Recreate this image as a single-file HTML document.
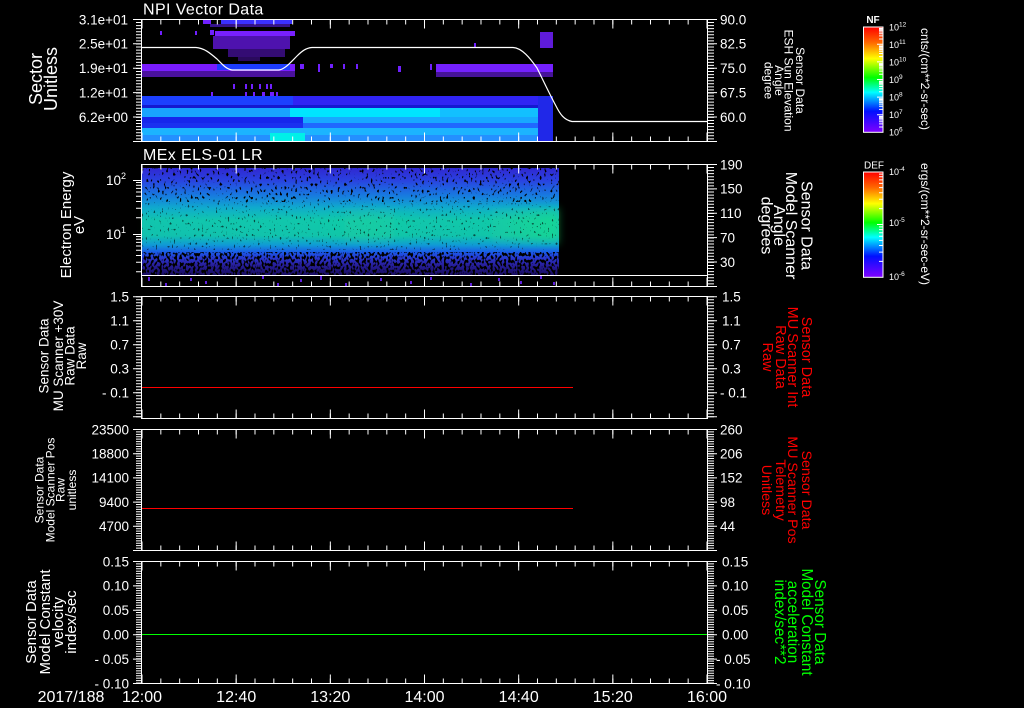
<!DOCTYPE html>
<html><head><meta charset="utf-8"><style>
html,body{margin:0;padding:0;background:#000;}
svg{display:block;}
text{font-family:"Liberation Sans",sans-serif;fill:#fff;}
</style></head><body>
<svg width="1024" height="708" viewBox="0 0 1024 708" xmlns="http://www.w3.org/2000/svg">
<defs>
<linearGradient id="rb" x1="0" y1="0" x2="0" y2="1">
<stop offset="0" stop-color="#ff0000"/>
<stop offset="0.15" stop-color="#ff6a00"/>
<stop offset="0.3" stop-color="#ffff00"/>
<stop offset="0.48" stop-color="#00ff00"/>
<stop offset="0.62" stop-color="#00ffff"/>
<stop offset="0.8" stop-color="#0010ff"/>
<stop offset="1" stop-color="#8000ff"/>
</linearGradient>
<linearGradient id="sp2" x1="0" y1="168" x2="0" y2="275" gradientUnits="userSpaceOnUse">
<stop offset="0" stop-color="#3028d0"/>
<stop offset="0.11" stop-color="#2a40e0"/>
<stop offset="0.25" stop-color="#1878e0"/>
<stop offset="0.37" stop-color="#10a8d0"/>
<stop offset="0.49" stop-color="#12c4b0"/>
<stop offset="0.63" stop-color="#12c0b0"/>
<stop offset="0.72" stop-color="#1098d8"/>
<stop offset="0.79" stop-color="#1a58e8"/>
<stop offset="0.84" stop-color="#2838d0"/>
<stop offset="0.9" stop-color="#2820a0"/>
<stop offset="1" stop-color="#180c60"/>
</linearGradient>
<linearGradient id="grn" x1="142" y1="0" x2="559" y2="0" gradientUnits="userSpaceOnUse">
<stop offset="0" stop-color="#20f070" stop-opacity="0.03"/>
<stop offset="0.42" stop-color="#20f070" stop-opacity="0.08"/>
<stop offset="0.55" stop-color="#20f070" stop-opacity="0.2"/>
<stop offset="0.68" stop-color="#20f070" stop-opacity="0.06"/>
<stop offset="0.82" stop-color="#20f070" stop-opacity="0.1"/>
<stop offset="0.95" stop-color="#20f070" stop-opacity="0.35"/>
<stop offset="1" stop-color="#20f070" stop-opacity="0.4"/>
</linearGradient>
<filter id="blur4" x="-5%" y="-50%" width="110%" height="200%">
<feGaussianBlur stdDeviation="4"/>
</filter>
<filter id="spkA" x="0" y="0" width="1" height="1">
<feTurbulence type="fractalNoise" baseFrequency="0.45 0.3" numOctaves="1" seed="7"/>
<feColorMatrix type="matrix" values="0 0 0 0 0  0 0 0 0 0  0 0 0 0 0  12 0 0 0 -7.3"/>
</filter>
<filter id="spkB" x="0" y="0" width="1" height="1">
<feTurbulence type="fractalNoise" baseFrequency="0.45 0.3" numOctaves="1" seed="11"/>
<feColorMatrix type="matrix" values="0 0 0 0 0  0 0 0 0 0  0 0 0 0 0  12 0 0 0 -6.0"/>
</filter>
<filter id="spkC" x="0" y="0" width="1" height="1">
<feTurbulence type="fractalNoise" baseFrequency="0.5 0.35" numOctaves="1" seed="3"/>
<feColorMatrix type="matrix" values="0 0 0 0 0  0 0 0 0 0  0 0 0 0 0  12 0 0 0 -7.8"/>
</filter>
<g id="tt" stroke="#fff">
<line x1="141.5" y1="2.5" x2="708" y2="2.5" stroke-width="5" stroke-dasharray="1 17.833"/>
<line x1="141.5" y1="4.5" x2="708" y2="4.5" stroke-width="9" stroke-dasharray="1 93.167"/>
</g>
<g id="tb" stroke="#fff">
<line x1="141.5" y1="-2.5" x2="708" y2="-2.5" stroke-width="5" stroke-dasharray="1 17.833"/>
<line x1="141.5" y1="-4.5" x2="708" y2="-4.5" stroke-width="9" stroke-dasharray="1 93.167"/>
</g>
</defs>
<rect width="1024" height="708" fill="#000"/>

<!-- ===== Panel 1 data ===== -->
<g>
<rect x="203" y="20" width="8" height="4" fill="#7020ff"/>
<rect x="221" y="20" width="71" height="4" fill="#3a30ff"/>
<rect x="210" y="24" width="80" height="3" fill="#5a20e8" opacity="0.6"/>
<rect x="160" y="31" width="2" height="4" fill="#7020ff"/>
<rect x="195" y="31" width="2" height="4" fill="#7020ff"/>
<rect x="210" y="30" width="4" height="5" fill="#7020ff"/>
<rect x="215" y="31" width="80" height="5" fill="#7820ff"/>
<rect x="213" y="36" width="77" height="13" fill="#6818e8" opacity="0.75"/>
<rect x="228" y="49" width="57" height="8" fill="#6818e8" opacity="0.5"/>
<rect x="238" y="57" width="22" height="4" fill="#6818e8" opacity="0.4"/>
<rect x="474" y="43" width="2" height="5" fill="#7020ff"/>
<rect x="540" y="32" width="13" height="16" fill="#7020ff" opacity="0.85"/>
<rect x="142" y="64" width="153" height="7" fill="#7a1cff"/>
<rect x="142" y="71" width="153" height="6" fill="#6a18e0" opacity="0.7"/>
<rect x="217" y="64" width="73" height="6" fill="#1c3cff"/>
<rect x="300" y="64" width="4" height="5" fill="#7020ff"/>
<rect x="318" y="64" width="2" height="8" fill="#7020ff"/>
<rect x="330" y="64" width="3" height="4" fill="#7020ff"/>
<rect x="343" y="64" width="2" height="5" fill="#7020ff"/>
<rect x="356" y="64" width="2" height="5" fill="#7020ff"/>
<rect x="398" y="66" width="3" height="6" fill="#7020ff"/>
<rect x="430" y="64" width="2" height="6" fill="#7020ff"/>
<rect x="436" y="64" width="117" height="8" fill="#7420ff"/>
<rect x="436" y="72" width="117" height="5" fill="#7420ff" opacity="0.6"/>
<g fill="#7020ff">
<rect x="233" y="84" width="2" height="5"/><rect x="245" y="84" width="2" height="5"/><rect x="251" y="84" width="2" height="5"/>
<rect x="259" y="84" width="2" height="5"/><rect x="266" y="84" width="2" height="5"/><rect x="270" y="84" width="2" height="5"/>
<rect x="211" y="92" width="2" height="4"/><rect x="245" y="92" width="2" height="4"/><rect x="253" y="92" width="2" height="4"/>
<rect x="262" y="92" width="3" height="4"/><rect x="270" y="92" width="4" height="4"/><rect x="276" y="92" width="2" height="4"/>
</g>
<rect x="142" y="96" width="151" height="9" fill="#1c40ff"/>
<rect x="293" y="96" width="245" height="9" fill="#3024f4"/>
<rect x="142" y="105" width="396" height="3" fill="#1418d0"/>
<rect x="142" y="108" width="148" height="9" fill="#18a4ff"/>
<rect x="290" y="108" width="150" height="9" fill="#00e4ff"/>
<rect x="440" y="108" width="98" height="9" fill="#12c0ff"/>
<rect x="142" y="117" width="161" height="6" fill="#1626ec"/>
<rect x="303" y="117" width="235" height="6" fill="#18a8ff"/>
<rect x="142" y="123" width="161" height="5" fill="#1a30f0"/>
<rect x="303" y="123" width="235" height="5" fill="#2068ff"/>
<rect x="142" y="128" width="396" height="7" fill="#1cb4ff"/>
<rect x="142" y="135" width="396" height="7" fill="#2490ff"/>
<rect x="270" y="133" width="35" height="9" fill="#00f0e8"/>
<rect x="538" y="96" width="15" height="46" fill="#2028e8"/>
</g>
<path d="M142,47.5 L196,47.5 C204,48 210,53 217,59 C222,64 226,69 232,70 L279,70 C285,69 290,63 297,56 C302,51 306,48 312,47.5 L513,47.5 C522,48 530,58 537,68 C543,80 550,95 556,106 C560,114 564,120 572,121.5 L707,121.5" fill="none" stroke="#fff" stroke-width="1.2"/>

<!-- ===== Panel 2 data ===== -->
<rect x="142" y="168" width="417" height="107" fill="url(#sp2)"/>
<rect x="142" y="208" width="417" height="36" fill="url(#grn)" filter="url(#blur4)"/>
<rect x="142" y="168" width="417" height="34" fill="#000" filter="url(#spkA)"/>
<rect x="142" y="202" width="417" height="48" fill="#000" opacity="0.6" filter="url(#spkC)"/>
<rect x="142" y="252" width="417" height="23" fill="#000" filter="url(#spkB)"/>
<g fill="#6020e0">
<rect x="148" y="277" width="2" height="4"/><rect x="165" y="283" width="2" height="3"/><rect x="190" y="278" width="2" height="3"/>
<rect x="205" y="281" width="2" height="3"/><rect x="262" y="276" width="2" height="3"/><rect x="277" y="283" width="2" height="3"/>
<rect x="300" y="279" width="2" height="3"/><rect x="320" y="276" width="2" height="4"/><rect x="345" y="283" width="2" height="3"/>
<rect x="380" y="278" width="2" height="3"/><rect x="410" y="281" width="2" height="3"/><rect x="430" y="277" width="2" height="3"/>
<rect x="470" y="283" width="2" height="3"/><rect x="498" y="278" width="2" height="3"/><rect x="520" y="281" width="2" height="3"/>
<rect x="540" y="276" width="2" height="3"/><rect x="553" y="282" width="2" height="3"/>
</g>
<line x1="142" y1="275.5" x2="707" y2="275.5" stroke="#fff" stroke-width="1"/>

<!-- ===== lines panels 3-5 ===== -->
<line x1="142" y1="387.5" x2="573" y2="387.5" stroke="#ff0000" stroke-width="1"/>
<line x1="142" y1="508.5" x2="573" y2="508.5" stroke="#ff0000" stroke-width="1"/>
<line x1="142" y1="634.5" x2="707" y2="634.5" stroke="#00ff00" stroke-width="1"/>

<!-- ===== frames ===== -->
<g fill="none" stroke="#fff" stroke-width="1">
<rect x="141.5" y="19.5" width="566" height="122"/>
<rect x="141.5" y="164.5" width="566" height="122"/>
<rect x="141.5" y="296.5" width="566" height="122"/>
<rect x="141.5" y="429.5" width="566" height="121"/>
<rect x="141.5" y="561.5" width="566" height="122"/>
</g>

<use href="#tt" y="19.5"/><use href="#tb" y="141.5"/>
<use href="#tt" y="164.5"/><use href="#tb" y="286.5"/>
<use href="#tt" y="296.5"/><use href="#tb" y="418.5"/>
<use href="#tt" y="429.5"/><use href="#tb" y="550.5"/>
<use href="#tt" y="561.5"/><use href="#tb" y="683.5"/>

<g stroke="#fff">
<line x1="139" y1="19" x2="139" y2="142" stroke-width="6" stroke-dasharray="1 2.06"/>
<line x1="710.5" y1="19" x2="710.5" y2="142" stroke-width="7" stroke-dasharray="1 2.06"/>
<line x1="710.5" y1="164" x2="710.5" y2="287" stroke-width="7" stroke-dasharray="1 2.06"/>
<line x1="139" y1="296.2" x2="139" y2="419" stroke-width="6" stroke-dasharray="1 2.0"/>
<line x1="710.5" y1="296.2" x2="710.5" y2="419" stroke-width="7" stroke-dasharray="1 2.0"/>
<line x1="139" y1="429" x2="139" y2="551" stroke-width="6" stroke-dasharray="1 1.42"/>
<line x1="710.5" y1="429" x2="710.5" y2="551" stroke-width="7" stroke-dasharray="1 1.42"/>
<line x1="139" y1="561" x2="139" y2="684" stroke-width="6" stroke-dasharray="1 1.43"/>
<line x1="710.5" y1="561" x2="710.5" y2="684" stroke-width="7" stroke-dasharray="1 1.43"/>
</g>
<g stroke="#fff" stroke-width="1">
<path d="M133 19.5H142M133 43.8H142M133 68.2H142M133 92.6H142M133 117H142M133 141.5H142
M707 19.5H717M707 43.8H717M707 68.2H717M707 92.6H717M707 117H717M707 141.5H717
M133 180.5H142M133 234.5H142
M136 182.5H142M136 185.2H142M136 188.4H142M136 192H142M136 196.3H142M136 201.5H142M136 208.2H142M136 217.7H142
M136 236.5H142M136 239.2H142M136 242.4H142M136 246H142M136 250.3H142M136 255.5H142M136 262.2H142M136 271.7H142
M707 164.5H717M707 188.9H717M707 213.3H717M707 237.6H717M707 262H717M707 286.5H717
M133 296.7H142M133 320.7H142M133 344.7H142M133 368.7H142M133 392.7H142M133 416.7H142
M707 296.7H717M707 320.7H717M707 344.7H717M707 368.7H717M707 392.7H717M707 416.7H717
M133 429.5H142M133 453.7H142M133 477.9H142M133 502.1H142M133 526.3H142M133 550.5H142
M707 429.5H717M707 453.7H717M707 477.9H717M707 502.1H717M707 526.3H717M707 550.5H717
M133 561.5H142M133 585.9H142M133 610.3H142M133 634.7H142M133 659.1H142M133 683.5H142
M707 561.5H717M707 585.9H717M707 610.3H717M707 634.7H717M707 659.1H717M707 683.5H717"/>
</g>

<text x="143" y="14.5" font-size="16" letter-spacing="0.4">NPI Vector Data</text>
<text x="143" y="160" font-size="16" letter-spacing="0.4">MEx ELS-01 LR</text>

<g font-size="13.5" text-anchor="end">
<text x="128" y="24.3">3.1e+01</text>
<text x="128" y="48.6">2.5e+01</text>
<text x="128" y="73">1.9e+01</text>
<text x="128" y="97.4">1.2e+01</text>
<text x="128" y="121.8">6.2e+00</text>
<text x="126" y="185">10<tspan dy="-6" font-size="9">2</tspan></text>
<text x="126" y="239">10<tspan dy="-6" font-size="9">1</tspan></text>
<text x="129" y="301.5">1.5</text>
<text x="129" y="325.5">1.1</text>
<text x="129" y="349.5">0.7</text>
<text x="129" y="373.5">0.3</text>
<text x="129" y="397.5">- 0.1</text>
<text x="129" y="434.3">23500</text>
<text x="129" y="458.5">18800</text>
<text x="129" y="482.7">14100</text>
<text x="129" y="506.9">9400</text>
<text x="129" y="531.1">4700</text>
<text x="129" y="566.3">0.15</text>
<text x="129" y="590.7">0.10</text>
<text x="129" y="615.1">0.05</text>
<text x="129" y="639.5">0.00</text>
<text x="129" y="663.9">- 0.05</text>
<text x="129" y="688.3">- 0.10</text>
</g>
<g font-size="13.5">
<text x="720" y="24.3">90.0</text>
<text x="720" y="48.6">82.5</text>
<text x="720" y="73">75.0</text>
<text x="720" y="97.4">67.5</text>
<text x="720" y="121.8">60.0</text>
<text x="720" y="169.3">190</text>
<text x="720" y="193.7">150</text>
<text x="720" y="218.1">110</text>
<text x="720" y="242.4">70</text>
<text x="720" y="266.8">30</text>
<text x="722" y="301.5">1.5</text>
<text x="722" y="325.5">1.1</text>
<text x="722" y="349.5">0.7</text>
<text x="722" y="373.5">0.3</text>
<text x="720" y="397.5">- 0.1</text>
<text x="720" y="434.3">260</text>
<text x="720" y="458.5">206</text>
<text x="720" y="482.7">152</text>
<text x="720" y="506.9">98</text>
<text x="720" y="531.1">44</text>
<text x="722" y="566.3">0.15</text>
<text x="722" y="590.7">0.10</text>
<text x="722" y="615.1">0.05</text>
<text x="722" y="639.5">0.00</text>
<text x="716" y="663.9">- 0.05</text>
<text x="716" y="688.3">- 0.10</text>
</g>

<g font-size="16" text-anchor="middle">
<text x="71" y="702">2017/188</text>
<text x="142" y="702">12:00</text>
<text x="236.2" y="702">12:40</text>
<text x="330.3" y="702">13:20</text>
<text x="424.5" y="702">14:00</text>
<text x="518.7" y="702">14:40</text>
<text x="612.8" y="702">15:20</text>
<text x="707" y="702">16:00</text>
</g>

<g transform="translate(0,79) rotate(-90)" font-size="18" text-anchor="middle">
<text x="0" y="42">Sector</text><text x="0" y="57">Unitless</text>
</g>
<g transform="translate(0,225) rotate(-90)" font-size="15" text-anchor="middle">
<text x="0" y="71">Electron Energy</text><text x="0" y="84">eV</text>
</g>
<g transform="translate(0,356) rotate(-90)" font-size="13.5" text-anchor="middle">
<text x="0" y="48.3">Sensor Data</text><text x="0" y="63">MU Scanner +30V</text>
<text x="0" y="74.5">Raw Data</text><text x="0" y="86">Raw</text>
</g>
<g transform="translate(0,490) rotate(-90)" font-size="12" text-anchor="middle">
<text x="0" y="43.3">Sensor Data</text><text x="0" y="54.5">Model Scanner Pos</text>
<text x="0" y="64.5">Raw</text><text x="0" y="76">unitless</text>
</g>
<g transform="translate(0,622) rotate(-90)" font-size="15" text-anchor="middle">
<text x="0" y="36">Sensor Data</text><text x="0" y="50">Model Constant</text>
<text x="0" y="63">velocity</text><text x="0" y="76">index/sec</text>
</g>

<g transform="translate(1024,80.5) rotate(90)" font-size="12" text-anchor="middle">
<text x="0" y="228">Sensor Data</text><text x="0" y="239.5">ESH Sun Elevation</text>
<text x="0" y="249">Angle</text><text x="0" y="259.5">degree</text>
</g>
<g transform="translate(1024,225.5) rotate(90)" font-size="16" text-anchor="middle">
<text x="0" y="222.3">Sensor Data</text><text x="0" y="238">Model Scanner</text>
<text x="0" y="250">Angle</text><text x="0" y="262.5">degrees</text>
</g>
<g transform="translate(1024,357) rotate(90)" font-size="14.5" text-anchor="middle">
<text x="0" y="222" style="fill:#ff0000">Sensor Data</text><text x="0" y="236" style="fill:#ff0000">MU Scanner Int</text>
<text x="0" y="248" style="fill:#ff0000">Raw Data</text><text x="0" y="261" style="fill:#ff0000">Raw</text>
</g>
<g transform="translate(1024,490) rotate(90)" font-size="14.2" text-anchor="middle">
<text x="0" y="222" style="fill:#ff0000">Sensor Data</text><text x="0" y="236" style="fill:#ff0000">MU Scanner Pos</text>
<text x="0" y="248" style="fill:#ff0000">Telemetry</text><text x="0" y="262" style="fill:#ff0000">Unitless</text>
</g>
<g transform="translate(1024,622) rotate(90)" font-size="15.3" text-anchor="middle">
<text x="0" y="209" style="fill:#00ff00">Sensor Data</text><text x="0" y="222" style="fill:#00ff00">Model Constant</text>
<text x="0" y="236" style="fill:#00ff00">acceleration</text><text x="0" y="249" style="fill:#00ff00">index/sec**2</text>
</g>

<rect x="863.5" y="27" width="19.5" height="105.3" fill="url(#rb)" stroke="#fff" stroke-width="1"/>
<rect x="863.5" y="172" width="19.5" height="105.3" fill="url(#rb)" stroke="#fff" stroke-width="1"/>
<g stroke="#fff" stroke-width="1">
<path d="M877 44.3H883M877 61.9H883M877 79.5H883M877 97.1H883M877 114.7H883
M879 127H883M879 123.9H883M879 121.7H883M879 120H883M879 118.6H883M879 117.4H883M879 116.4H883
M879 109.4H883M879 106.3H883M879 104.1H883M879 102.4H883M879 101H883M879 99.8H883M879 98.8H883
M879 91.8H883M879 88.7H883M879 86.5H883M879 84.8H883M879 83.4H883M879 82.2H883M879 81.2H883
M879 74.2H883M879 71.1H883M879 68.9H883M879 67.2H883M879 65.8H883M879 64.6H883M879 63.6H883
M879 56.6H883M879 53.5H883M879 51.3H883M879 49.6H883M879 48.2H883M879 47H883M879 46H883
M879 39H883M879 35.9H883M879 33.7H883M879 32H883M879 30.6H883M879 29.4H883M879 28.4H883
M877 224.5H883
M879 261.4H883M879 252.1H883M879 245.5H883M879 240.4H883M879 236.2H883M879 232.7H883M879 229.6H883M879 226.9H883
M879 208.6H883M879 199.3H883M879 192.7H883M879 187.6H883M879 183.4H883M879 179.9H883M879 176.8H883M879 174.1H883"/>
</g>
<text x="873" y="23" font-size="10" font-weight="bold" text-anchor="middle">NF</text>
<text x="874" y="168.5" font-size="10" text-anchor="middle">DEF</text>
<g font-size="9">
<text x="889" y="30.5">10<tspan dy="-4" font-size="6.5">12</tspan></text>
<text x="889" y="48">10<tspan dy="-4" font-size="6.5">11</tspan></text>
<text x="889" y="65.5">10<tspan dy="-4" font-size="6.5">10</tspan></text>
<text x="889" y="83">10<tspan dy="-4" font-size="6.5">9</tspan></text>
<text x="889" y="100.5">10<tspan dy="-4" font-size="6.5">8</tspan></text>
<text x="889" y="118">10<tspan dy="-4" font-size="6.5">7</tspan></text>
<text x="889" y="135.5">10<tspan dy="-4" font-size="6.5">6</tspan></text>
<text x="889" y="175">10<tspan dy="-4" font-size="6.5">-4</tspan></text>
<text x="889" y="226">10<tspan dy="-4" font-size="6.5">-5</tspan></text>
<text x="889" y="280">10<tspan dy="-4" font-size="6.5">-6</tspan></text>
</g>
<g transform="translate(1024,79) rotate(90)" font-size="12" text-anchor="middle">
<text x="0" y="103">cnts/(cm**2-sr-sec)</text>
</g>
<g transform="translate(1024,224) rotate(90)" font-size="12" text-anchor="middle">
<text x="0" y="103">ergs/(cm**2-sr-sec-eV)</text>
</g>
</svg>
</body></html>
